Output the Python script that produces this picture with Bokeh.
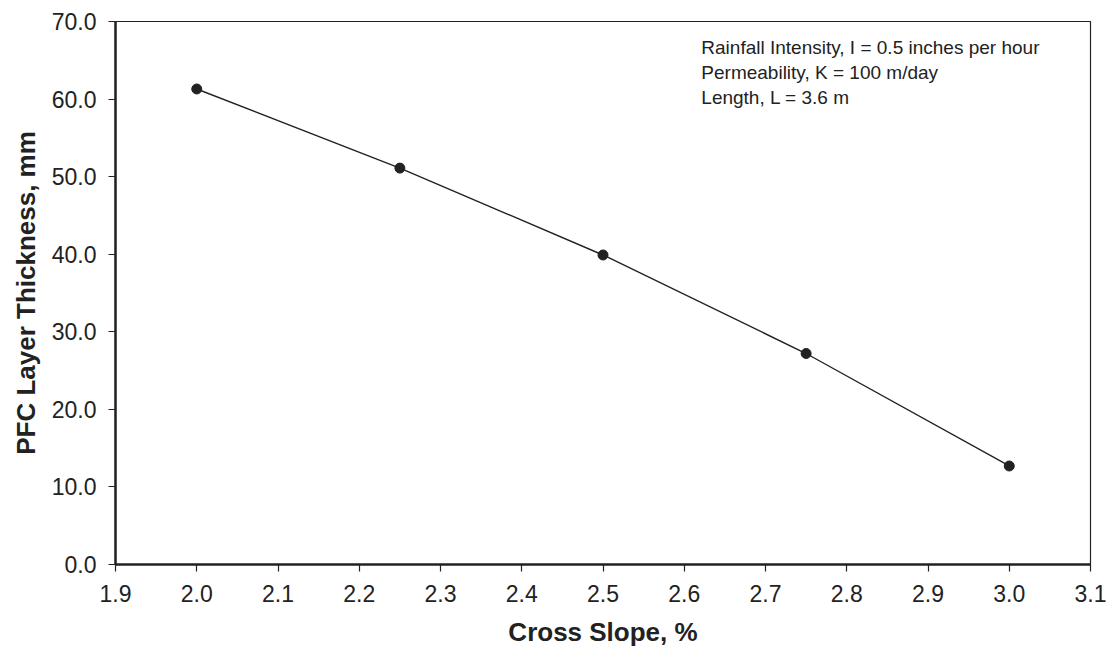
from bokeh.plotting import figure
from bokeh.models import Range1d, Label, NumeralTickFormatter, FixedTicker
from bokeh.embed import file_html
from bokeh.resources import INLINE

cross_slope = [2.0, 2.25, 2.5, 2.75, 3.0]
thickness = [61.3, 51.1, 39.9, 27.2, 12.7]
x_ticks = [1.9, 2.0, 2.1, 2.2, 2.3, 2.4, 2.5, 2.6, 2.7, 2.8, 2.9, 3.0, 3.1]
y_ticks = [0, 10, 20, 30, 40, 50, 60, 70]
notes = ["Rainfall Intensity, I = 0.5 inches per hour",
         "Permeability, K = 100 m/day",
         "Length, L = 3.6 m"]

FONT = "Liberation Sans"

p = figure(width=1107, height=652, output_backend="svg", toolbar_location=None,
           x_range=Range1d(1.9, 3.1), y_range=Range1d(0, 70),
           min_border_left=115, min_border_right=17, min_border_top=21, min_border_bottom=88)
p.xgrid.visible = False
p.ygrid.visible = False
p.outline_line_color = "#222222"
p.outline_line_width = 1.2
p.background_fill_color = "white"
p.border_fill_color = "white"

for ax in (p.xaxis, p.yaxis):
    ax.axis_line_width = 2.5
    ax.axis_line_color = "#222222"
    ax.major_tick_line_color = "#222222"
    ax.major_tick_line_width = 1.2
    ax.major_tick_out = 7
    ax.major_tick_in = 0
    ax.minor_tick_line_color = None
    ax.major_label_text_font = FONT
    ax.major_label_text_font_size = "23px"
    ax.major_label_text_color = "#222222"
    ax.axis_label_text_font = FONT
    ax.axis_label_text_font_size = "26px"
    ax.axis_label_text_font_style = "bold"
    ax.axis_label_text_color = "#222222"

p.xaxis.ticker = FixedTicker(ticks=x_ticks)
p.yaxis.ticker = FixedTicker(ticks=y_ticks)
p.xaxis.formatter = NumeralTickFormatter(format="0.0")
p.yaxis.formatter = NumeralTickFormatter(format="0.0")
p.xaxis.major_label_standoff = 13
p.yaxis.major_label_standoff = 12
p.xaxis.axis_label = "Cross Slope, %"
p.yaxis.axis_label = "PFC Layer Thickness, mm"
p.xaxis.axis_label_standoff = 12
p.yaxis.axis_label_standoff = 8

p.line(cross_slope, thickness, line_color="#222222", line_width=1.4)
p.scatter(cross_slope, thickness, size=10, fill_color="#222222", line_color="#222222")

ys = [66.68, 63.46, 60.24]
for t, yv in zip(notes, ys):
    p.add_layout(Label(x=2.621, y=yv, text=t, text_font=FONT, text_font_size="19px",
                       text_color="#222222", text_baseline="alphabetic", text_align="left"))

open("out.html", "w").write(file_html(p, INLINE))
